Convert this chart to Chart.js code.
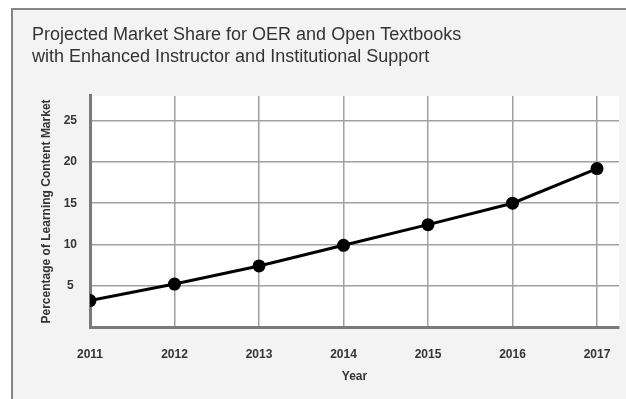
<!DOCTYPE html>
<html>
<head>
<meta charset="utf-8">
<script src="https://cdn.jsdelivr.net/npm/chart.js@4"></script>
<style>
  html, body { margin: 0; padding: 0; background: #ffffff; }
  canvas { display: block; }
</style>
</head>
<body>
<canvas id="shareChart" width="626" height="399"></canvas>
<script>
const years = [2011, 2012, 2013, 2014, 2015, 2016, 2017];
const marketShare = [3.2, 5.2, 7.4, 9.9, 12.4, 15.0, 19.2];
const yTicks = [5, 10, 15, 20, 25];
const titleLines = [
  "Projected Market Share for OER and Open Textbooks",
  "with Enhanced Instructor and Institutional Support",
];

// light grey panel with a border, white plot area
const panelBg = {
  id: "panelBg",
  beforeDraw(chart) {
    const ctx = chart.ctx;
    const area = chart.chartArea;
    ctx.save();
    ctx.fillStyle = "#ffffff";
    ctx.fillRect(0, 0, chart.width, chart.height);
    ctx.fillStyle = "#f3f3f3";
    ctx.fillRect(12, 9, chart.width, chart.height);
    ctx.strokeStyle = "#858585";
    ctx.lineWidth = 2;
    ctx.beginPath();
    ctx.moveTo(12, chart.height + 5);
    ctx.lineTo(12, 9);
    ctx.lineTo(chart.width + 5, 9);
    ctx.stroke();
    ctx.fillStyle = "#ffffff";
    ctx.fillRect(area.left, area.top, area.right - area.left, area.bottom - area.top);
    ctx.restore();
  },
};

document.addEventListener("DOMContentLoaded", function () {
  const ctx = document.getElementById("shareChart").getContext("2d");
  new Chart(ctx, {
    type: "line",
    data: {
      datasets: [
        {
          label: "Market share",
          data: years.map((y, i) => ({ x: y, y: marketShare[i] })),
          borderColor: "#000000",
          backgroundColor: "#000000",
          borderWidth: 3,
          pointRadius: 6.5,
          pointBackgroundColor: "#000000",
          pointBorderWidth: 0,
          tension: 0,
        },
      ],
    },
    options: {
      responsive: false,
      animation: false,
      layout: {
        padding: { top: 12, left: 32, right: 7, bottom: 0 },
      },
      plugins: {
        legend: { display: false },
        tooltip: { enabled: false },
        title: {
          display: true,
          text: titleLines,
          align: "start",
          color: "#333333",
          font: { family: "Liberation Sans", size: 18, weight: "normal", lineHeight: 1.22 },
          padding: { top: 12, bottom: 28 },
        },
      },
      scales: {
        x: {
          type: "linear",
          min: years[0],
          max: years[years.length - 1] + 0.26,
          afterFit(scale) {
            scale.height = 72;
            scale.paddingLeft = 0;
            scale.paddingRight = 0;
          },
          afterBuildTicks(scale) {
            scale.ticks = years.map((v) => ({ value: v }));
          },
          ticks: {
            padding: 20,
            color: "#333333",
            font: { family: "Liberation Sans", size: 12, weight: "bold" },
            callback: (v) => String(v),
          },
          grid: {
            color: "#a0a0a0",
            lineWidth: 1.5,
            drawTicks: false,
          },
          border: { color: "#7a7a7a", width: 3 },
          title: {
            display: true,
            text: "Year",
            color: "#333333",
            font: { family: "Liberation Sans", size: 12, weight: "bold" },
            padding: { top: 0, bottom: 15 },
          },
        },
        y: {
          min: 0,
          max: 28,
          afterFit(scale) {
            scale.width = 58;
          },
          afterBuildTicks(scale) {
            scale.ticks = [0].concat(yTicks).map((v) => ({ value: v }));
          },
          ticks: {
            padding: 13,
            crossAlign: "center",
            color: "#333333",
            font: { family: "Liberation Sans", size: 12, weight: "bold" },
            callback: (v) => (v === 0 ? "" : String(v)),
          },
          grid: {
            color: "#a0a0a0",
            lineWidth: 1.5,
            drawTicks: false,
          },
          border: { color: "#7a7a7a", width: 3 },
          title: {
            display: true,
            text: "Percentage of Learning Content Market",
            color: "#333333",
            font: { family: "Liberation Sans", size: 12, weight: "bold" },
            padding: { top: 7, bottom: 0 },
          },
        },
      },
    },
    plugins: [panelBg],
  });
});
</script>
</body>
</html>
